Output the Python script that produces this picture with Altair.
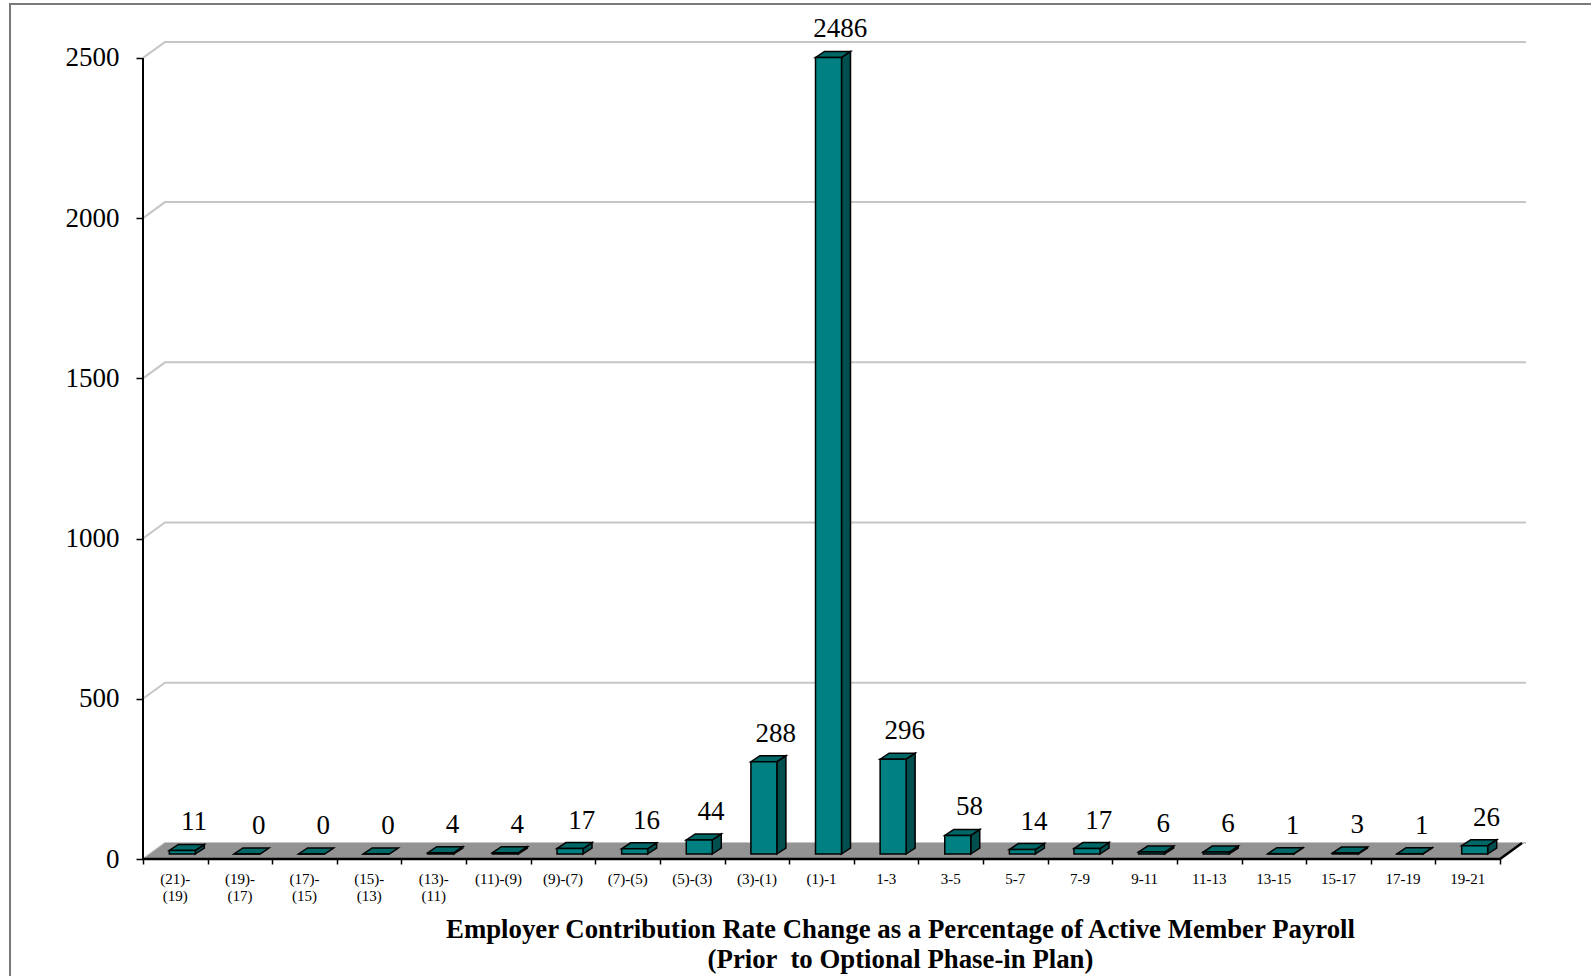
import altair as alt
import pandas as pd

# ---------------- data ----------------
categories = ["(21)-\n(19)", "(19)-\n(17)", "(17)-\n(15)", "(15)-\n(13)", "(13)-\n(11)",
              "(11)-(9)", "(9)-(7)", "(7)-(5)", "(5)-(3)", "(3)-(1)", "(1)-1", "1-3",
              "3-5", "5-7", "7-9", "9-11", "11-13", "13-15", "15-17", "17-19", "19-21"]
counts = [11, 0, 0, 0, 4, 4, 17, 16, 44, 288, 2486, 296, 58, 14, 17, 6, 6, 1, 3, 1, 26]
y_ticks = [0, 500, 1000, 1500, 2000, 2500]
x_title = ["Employer Contribution Rate Change as a Percentage of Active Member Payroll",
           "(Prior \u00a0to Optional Phase-in Plan)"]

# ---------------- geometry (pseudo-3D) ----------------
N = len(categories)
PXX = 64.62      # pixels per category
PXY = 0.32044    # pixels per count unit
W, H = 1383, 817
XMAX = W / PXX
YMAX = H / PXY
wall_dx, wall_dy = 22 / PXX, 16 / PXY
grid_ext = 4 / PXX
bar_off_x, bar_off_y = 7 / PXX, 5 / PXY
bar_hw = 13 / PXX
bar_dx, bar_dy = 9 / PXX, 6 / PXY

xs = alt.Scale(domain=[0, XMAX], nice=False, zero=False)
ys = alt.Scale(domain=[0, YMAX], nice=False, zero=False)
SERIF = "Liberation Serif"

front_rows, top_rows, side_rows, lab_rows, cat_rows = [], [], [], [], []
for i, (c, v) in enumerate(zip(categories, counts)):
    cx = i + 0.5 + bar_off_x
    xl, xr = cx - bar_hw, cx + bar_hw
    b = bar_off_y
    front_rows.append({"id": i, "x0": xl, "x1": xr, "y0": b, "y1": b + v})
    t = b + v
    for px, py, py2 in [(xl, t, t), (xl + bar_dx, t, t + bar_dy),
                        (xr, t, t + bar_dy), (xr + bar_dx, t + bar_dy, t + bar_dy)]:
        top_rows.append({"id": i, "x": px, "y": py, "y2": py2})
    for px, py, py2 in [(xr, b, t), (xr + bar_dx, b + bar_dy, t + bar_dy)]:
        side_rows.append({"id": i, "x": px, "y": py, "y2": py2})
    lab_rows.append({"x": i + 0.5 + 0.29, "y": t + bar_dy, "label": str(v)})
    cat_rows.append({"x": i + 0.5, "y": 0, "label": c})

grid_rows = []
for v in y_ticks:
    for k, (px, py) in enumerate([(0, v), (wall_dx, v + wall_dy), (N + wall_dx + grid_ext, v + wall_dy)]):
        grid_rows.append({"g": v, "k": k, "x": px, "y": py})

floor_rows = [{"x": 0, "y": 0, "y2": 0}, {"x": wall_dx, "y": 0, "y2": wall_dy},
              {"x": N, "y": 0, "y2": wall_dy}, {"x": N + wall_dx, "y": wall_dy, "y2": wall_dy}]
edge_rows = [{"k": 0, "x": 0, "y": 0}, {"k": 1, "x": N, "y": 0}, {"k": 2, "x": N + wall_dx, "y": wall_dy}]

# ---------------- layers ----------------
axis_layer = alt.Chart(pd.DataFrame({"x": [0] * len(y_ticks), "y": y_ticks})).mark_point(opacity=0).encode(
    x=alt.X("x:Q", scale=xs, axis=alt.Axis(
        values=list(range(N + 1)), labels=False, domain=False, grid=False,
        ticks=True, tickSize=5, tickColor="black", tickWidth=1.5,
        title=x_title, titleFont=SERIF, titleFontSize=26.8, titleFontWeight="bold",
        titleColor="black", titleX=757, titleY=78, titleAlign="center",
        titleBaseline="alphabetic", titleLineHeight=30, titleAngle=0)),
    y=alt.Y("y:Q", scale=ys, axis=alt.Axis(
        values=y_ticks, format="d", domain=False, grid=False, tickSize=7, tickColor="black",
        tickWidth=1.5, labelFont=SERIF, labelFontSize=27, labelColor="black",
        labelPadding=17, title=None)),
)

frame = alt.Chart(pd.DataFrame({"a": [0]})).mark_rect(
    filled=False, stroke="#7a7a7a", strokeWidth=2).encode(
    x=alt.value(-133), x2=alt.value(1700), y=alt.value(-38), y2=alt.value(1100))

floor = alt.Chart(pd.DataFrame(floor_rows)).mark_area(color="#939393").encode(
    x=alt.X("x:Q", scale=xs, axis=None), y=alt.Y("y:Q", scale=ys, axis=None), y2="y2:Q")

grid = alt.Chart(pd.DataFrame(grid_rows)).mark_line(color="#c6c6c6", strokeWidth=2).encode(
    x=alt.X("x:Q", scale=xs, axis=None), y=alt.Y("y:Q", scale=ys, axis=None),
    detail="g:N", order="k:Q")

edge = alt.Chart(pd.DataFrame(edge_rows)).mark_line(color="black", strokeWidth=2.5).encode(
    x=alt.X("x:Q", scale=xs, axis=None), y=alt.Y("y:Q", scale=ys, axis=None), order="k:Q")

yrule = alt.Chart(pd.DataFrame({"x": [0], "y": [0], "y2": [2500]})).mark_rule(
    color="black", strokeWidth=2).encode(
    x=alt.X("x:Q", scale=xs, axis=None), y=alt.Y("y:Q", scale=ys, axis=None), y2="y2:Q")

side = alt.Chart(pd.DataFrame(side_rows)).mark_area(
    color="#004f4f", stroke="black", strokeWidth=1.5, strokeJoin="miter").encode(
    x=alt.X("x:Q", scale=xs, axis=None), y=alt.Y("y:Q", scale=ys, axis=None), y2="y2:Q",
    detail="id:N")

top = alt.Chart(pd.DataFrame(top_rows)).mark_area(
    color="#006767", stroke="black", strokeWidth=1.5, strokeJoin="miter").encode(
    x=alt.X("x:Q", scale=xs, axis=None), y=alt.Y("y:Q", scale=ys, axis=None), y2="y2:Q",
    detail="id:N")

front = alt.Chart(pd.DataFrame(front_rows)).mark_rect(
    color="#008080", stroke="black", strokeWidth=1.5).encode(
    x=alt.X("x0:Q", scale=xs, axis=None), x2="x1:Q",
    y=alt.Y("y0:Q", scale=ys, axis=None), y2="y1:Q")

labels = alt.Chart(pd.DataFrame(lab_rows)).mark_text(
    font=SERIF, fontSize=27, color="black", baseline="alphabetic", align="center", dy=-14).encode(
    x=alt.X("x:Q", scale=xs, axis=None), y=alt.Y("y:Q", scale=ys, axis=None), text="label:N")

cats = alt.Chart(pd.DataFrame(cat_rows)).mark_text(
    font=SERIF, fontSize=15, color="black", baseline="top", align="center",
    dy=13, lineBreak="\n", lineHeight=17).encode(
    x=alt.X("x:Q", scale=xs, axis=None), y=alt.Y("y:Q", scale=ys, axis=None), text="label:N")

chart = alt.layer(
    axis_layer, frame, grid, floor, edge, yrule, side, top, front, labels, cats
).resolve_axis(x="independent", y="independent").properties(
    width=W, height=H,
    autosize=alt.AutoSizeParams(type="none"),
    padding={"left": 143, "top": 42, "right": 1591 - 143 - W, "bottom": 976 - 42 - H},
    background="white",
).configure_view(strokeWidth=0)

chart.save("out.html", embed_options={"renderer": "svg", "actions": False})
